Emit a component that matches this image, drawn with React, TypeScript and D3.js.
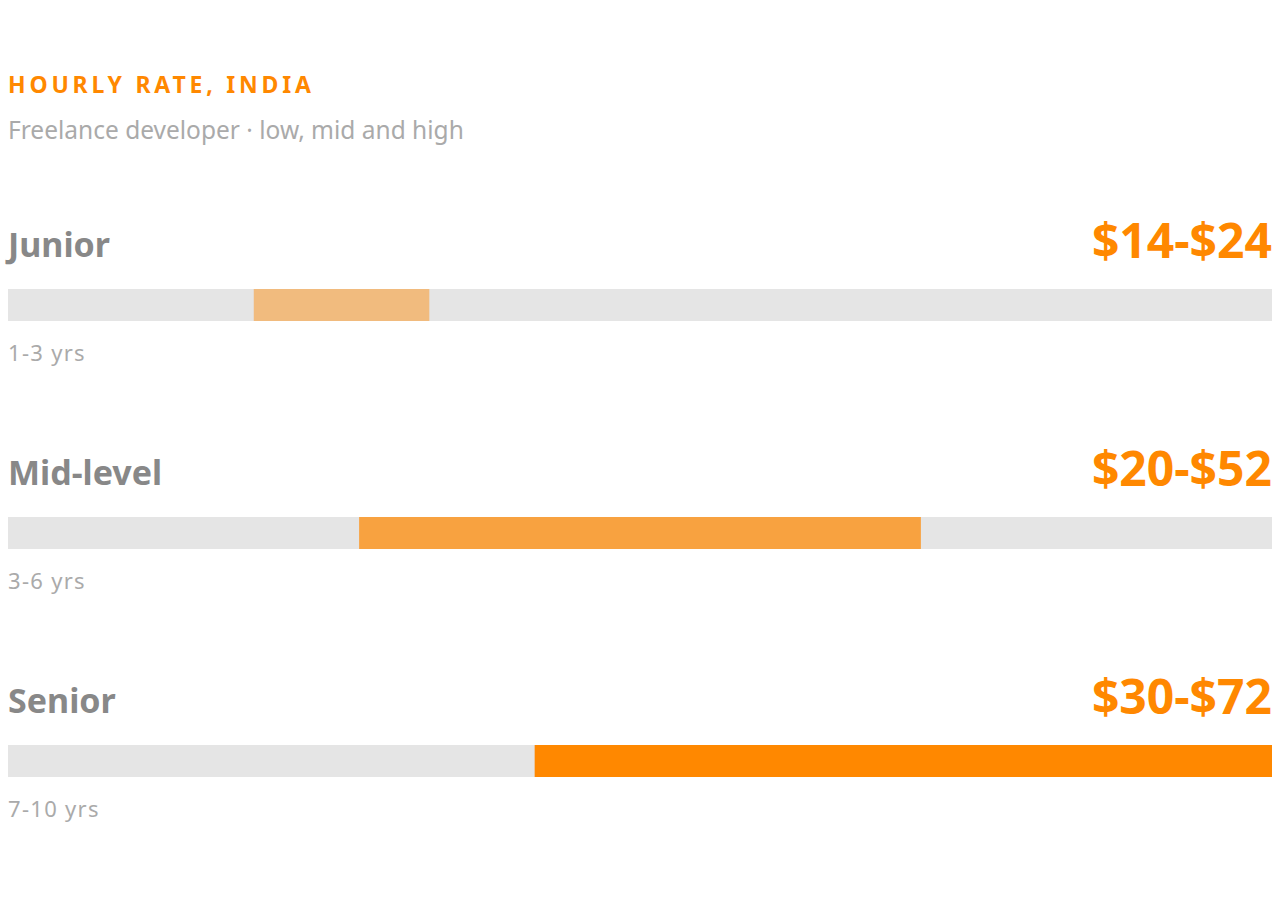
import React, { useEffect, useRef } from 'react';
import { select, scaleLinear, scaleBand } from 'd3';

const levels = ['Junior', 'Mid-level', 'Senior'];
const lowRates = [14, 20, 30];
const highRates = [24, 52, 72];
const experience = ['1-3 yrs', '3-6 yrs', '7-10 yrs'];
const barOpacity = [0.45, 0.72, 1];
const rateMax = 72;

const ORANGE = '#ff8800';
const FONT = '"Noto Sans", "Open Sans", sans-serif';

export default function App() {
    const svgRef = useRef<SVGSVGElement>(null);

    useEffect(() => {
        if (!svgRef.current) return;
        const svg = select(svgRef.current);
        svg.html('');

        const width = 1280;
        const left = 8;
        const right = 1272;

        const x = scaleLinear().domain([0, rateMax]).range([left, right]);
        const y = scaleBand<string>().domain(levels).range([200, 884]);

        // header
        svg.append('text')
            .attr('x', left)
            .attr('y', 93)
            .style('font-family', FONT)
            .style('font-size', '23px')
            .style('font-weight', 700)
            .style('letter-spacing', '3.8px')
            .style('fill', ORANGE)
            .text('HOURLY RATE, INDIA');

        svg.append('text')
            .attr('x', left)
            .attr('y', 139)
            .style('font-family', FONT)
            .style('font-size', '24.5px')
            .style('fill', '#aaaaaa')
            .text('Freelance developer \u00b7 low, mid and high');

        const rows = svg.selectAll('g.row')
            .data(levels)
            .enter()
            .append('g')
            .attr('class', 'row')
            .attr('transform', d => `translate(0, ${y(d)})`);

        rows.append('text')
            .attr('x', left)
            .attr('y', 57)
            .style('font-family', FONT)
            .style('font-size', '34px')
            .style('font-weight', 700)
            .style('fill', '#888888')
            .text(d => d);

        rows.append('text')
            .attr('x', right)
            .attr('y', 58)
            .attr('text-anchor', 'end')
            .style('font-family', FONT)
            .style('font-size', '48px')
            .style('font-weight', 700)
            .style('fill', ORANGE)
            .text((_, i) => `$${lowRates[i]}-$${highRates[i]}`);

        // track
        rows.append('rect')
            .attr('x', x(0))
            .attr('y', 89)
            .attr('width', x(rateMax) - x(0))
            .attr('height', 32)
            .style('fill', '#e5e5e5');

        // range
        rows.append('rect')
            .attr('x', (_, i) => x(lowRates[i]))
            .attr('y', 89)
            .attr('width', (_, i) => x(highRates[i]) - x(lowRates[i]))
            .attr('height', 32)
            .style('fill', ORANGE)
            .style('fill-opacity', (_, i) => barOpacity[i]);

        rows.append('text')
            .attr('x', left)
            .attr('y', 161)
            .style('font-family', FONT)
            .style('font-size', '22px')
            .style('letter-spacing', '1.3px')
            .style('fill', '#aaaaaa')
            .text((_, i) => experience[i]);

        svg.attr('width', width).attr('height', 920);
    }, []);

    return (
        <div style={{ position: 'absolute', left: 0, top: 0, width: 1280, height: 920, background: '#fff' }}>
            <svg ref={svgRef} width={1280} height={920}></svg>
        </div>
    );
}
